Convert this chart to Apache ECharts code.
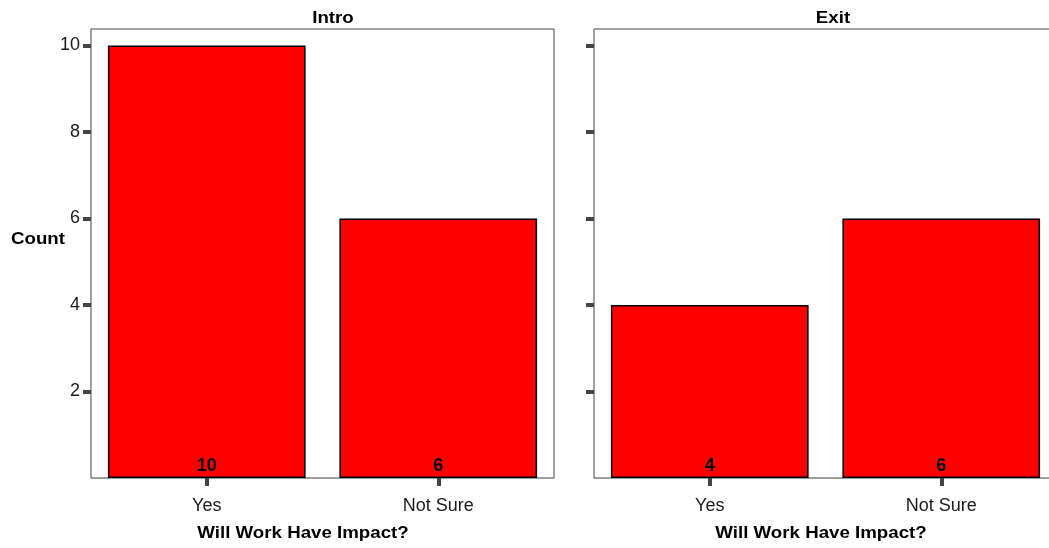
<!DOCTYPE html>
<html>
<head>
<meta charset="utf-8">
<script src="https://cdn.jsdelivr.net/npm/echarts@6/dist/echarts.min.js"></script>
<style>
  html, body { margin: 0; padding: 0; background: #fff; }
  #chart { width: 1049px; height: 548px; }
</style>
</head>
<body>
<div id="chart"></div>
<script>
// data
var categories = ['Yes', 'Not Sure'];
var introCounts = [10, 6];
var exitCounts = [4, 6];
var yTicks = [2, 4, 6, 8, 10];
var panelTitles = ['Intro', 'Exit'];
var xTitle = 'Will Work Have Impact?';
var yTitle = 'Count';

var FONT = '"Liberation Sans", Arial, sans-serif';

var makeX = function(idx) {
	return {
		type: 'category',
		gridIndex: idx,
		data: categories,
		axisLine: { show: true, lineStyle: { color: '#999', width: 1 } },
		axisTick: { show: true, alignWithLabel: true, length: 8, lineStyle: { color: '#444', width: 4 } },
		axisLabel: { fontFamily: FONT, fontSize: 18, color: '#1a1a1a', margin: 19 }
	};
};

var makeY = function(idx, showLabels) {
	return {
		type: 'value',
		gridIndex: idx,
		min: 0,
		max: 10.38,
		splitLine: { show: false },
		axisLine: { show: false },
		axisTick: { show: true, length: 8, customValues: yTicks, lineStyle: { color: '#444', width: 4 } },
		axisLabel: { show: showLabels, customValues: yTicks, fontFamily: FONT, fontSize: 18, color: '#1a1a1a', margin: 11 }
	};
};

var makeBar = function(idx, values) {
	return {
		type: 'bar',
		xAxisIndex: idx,
		yAxisIndex: idx,
		data: values,
		barWidth: '85.4%',
		itemStyle: { color: '#ff0000', borderColor: '#000', borderWidth: 1.5 },
		label: {
			show: true,
			position: 'insideBottom',
			distance: 3,
			fontFamily: FONT,
			fontSize: 18,
			fontWeight: 'bold',
			color: '#000'
		}
	};
};

var textEl = function(str, x, y, size) {
	return {
		type: 'text',
		x: x,
		y: y,
		scaleX: 1.1,
		style: {
			text: str,
			fontFamily: FONT,
			fontSize: size,
			fontWeight: 'bold',
			fill: '#000',
			align: 'center',
			verticalAlign: 'middle'
		}
	};
};

var option = {
	animation: false,
	backgroundColor: '#fff',
	grid: [
		{ left: 91, top: 29, width: 463, height: 449, outerBoundsMode: 'none', show: true, borderColor: '#444', borderWidth: 1 },
		{ left: 594, top: 29, width: 463, height: 449, outerBoundsMode: 'none', show: true, borderColor: '#444', borderWidth: 1 }
	],
	xAxis: [makeX(0), makeX(1)],
	yAxis: [makeY(0, true), makeY(1, false)],
	series: [makeBar(0, introCounts), makeBar(1, exitCounts)],
	graphic: [
		textEl(panelTitles[0], 333, 18, 17),
		textEl(panelTitles[1], 833, 18, 17),
		textEl(yTitle, 38, 239, 17),
		textEl(xTitle, 303, 533, 17),
		textEl(xTitle, 821, 533, 17)
	]
};

var myChart = echarts.init(document.getElementById('chart'));
myChart.setOption(option);
</script>
</body>
</html>
